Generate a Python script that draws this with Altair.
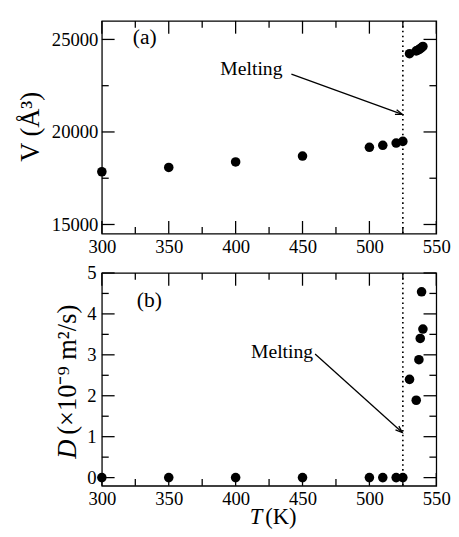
import altair as alt
import pandas as pd

# ---------------- data ----------------
T_solid = [300, 350, 400, 450, 500, 510, 520, 525]
V_solid = [17850, 18080, 18380, 18700, 19170, 19280, 19400, 19490]
D_solid = [0, 0, 0, 0, 0, 0, 0, 0]
T_liquid = [530, 535, 537, 538, 539, 540]
V_liquid = [24230, 24380, 24450, 24500, 24560, 24620]
D_liquid = [2.40, 1.89, 2.88, 3.40, 4.54, 3.63]
T_melt = 525

x_major = [300, 350, 400, 450, 500, 550]
x_minor = [325, 375, 425, 475, 525]
yV_major = [15000, 20000, 25000]
yV_minor = [17500, 22500]
yD_major = [0, 1, 2, 3, 4, 5]
yD_minor = [0.5, 1.5, 2.5, 3.5, 4.5]

# annotation anchors (data coordinates)
arrowV = {"T1": 441.7, "y1": 23120, "T2": 524.6, "y2": 20950}
arrowD = {"T1": 459.4, "y1": 3.02, "T2": 524.6, "y2": 1.10}
meltV = {"T": 411.8, "y": 23085}
meltD = {"T": 434.7, "y": 2.93}
labelV = {"T": 332, "y": 24728, "t": "(a)"}
labelD = {"T": 335.5, "y": 4.17, "t": "(b)"}

FONT = "Liberation Serif"
W, H = 341, 217
MAJ, MIN = 13, 7
SW = 1.3

xscale = alt.Scale(domain=[300, 550], nice=False, zero=False)
xaxis = alt.Axis(values=x_major, format="d", title=None, labelPadding=4,
                 labelFlush=False, labelOverlap=False)


def xenc(f):
    return alt.X(f, type="quantitative", scale=xscale, axis=xaxis)


def panel(yvals, ydomain, ymaj, ymin, ylabpad, arrow, melt, lab, angle):
    yscale = alt.Scale(domain=ydomain, nice=False, zero=False)
    yaxis = alt.Axis(values=ymaj, format="d", title=None, labelPadding=ylabpad,
                     labelFlush=False, labelOverlap=False)

    def yenc(f):
        return alt.Y(f, type="quantitative", scale=yscale, axis=yaxis)

    T_all = T_solid + T_liquid
    pts = alt.Chart(pd.DataFrame({"T": T_all, "y": yvals})).mark_circle(
        size=95, color="black", opacity=1
    ).encode(x=xenc("T"), y=yenc("y"))

    melt_line = alt.Chart(pd.DataFrame({"T": [T_melt]})).mark_rule(
        color="black", strokeWidth=1.7, strokeDash=[1.6, 3.4]
    ).encode(x=xenc("T"), y=alt.value(0), y2=alt.value(H))

    adf = pd.DataFrame([arrow])
    shaft = alt.Chart(adf).mark_rule(color="black", strokeWidth=SW).encode(
        x=xenc("T1"), x2="T2", y=yenc("y1"), y2="y2"
    )
    head = alt.Chart(adf).mark_point(
        shape="M-0.36,1L0,0L0.36,1", size=200, filled=False,
        stroke="black", strokeWidth=SW, angle=angle, opacity=1
    ).encode(x=xenc("T2"), y=yenc("y2"))

    mtext = alt.Chart(pd.DataFrame([melt])).mark_text(
        text="Melting", font=FONT, fontSize=20, color="black",
        align="center", baseline="alphabetic"
    ).encode(x=xenc("T"), y=yenc("y"))

    ltext = alt.Chart(pd.DataFrame([lab])).mark_text(
        font=FONT, fontSize=22, color="black", align="center", baseline="alphabetic"
    ).encode(x=xenc("T"), y=yenc("y"), text="t:N")

    layers = [melt_line, pts, shaft, head, mtext, ltext]

    for vals, L in ((x_major, MAJ), (x_minor, MIN)):
        d = pd.DataFrame({"v": vals})
        layers.append(alt.Chart(d).mark_rule(color="black", strokeWidth=SW).encode(
            x=xenc("v"), y=alt.value(H), y2=alt.value(H - L)))
        layers.append(alt.Chart(d).mark_rule(color="black", strokeWidth=SW).encode(
            x=xenc("v"), y=alt.value(0), y2=alt.value(L)))
    for vals, L in ((ymaj, MAJ), (ymin, MIN)):
        d = pd.DataFrame({"v": vals})
        layers.append(alt.Chart(d).mark_rule(color="black", strokeWidth=SW).encode(
            y=yenc("v"), x=alt.value(0), x2=alt.value(L)))
        layers.append(alt.Chart(d).mark_rule(color="black", strokeWidth=SW).encode(
            y=yenc("v"), x=alt.value(W), x2=alt.value(W - L)))
    return layers


one = pd.DataFrame({"a": [0]})

top_layers = panel(V_solid + V_liquid, [14500, 26000], yV_major, yV_minor, 4,
                   arrowV, meltV, labelV, 110)
top_layers.append(alt.Chart(one).mark_text(
    text="V (Å³)", font=FONT, fontSize=27, color="black", angle=270,
    align="center", baseline="alphabetic"
).encode(x=alt.value(-64.5), y=alt.value(108)))
top = alt.layer(*top_layers).properties(width=W, height=H)

bot_layers = panel(D_solid + D_liquid, [-0.2, 5], yD_major, yD_minor, 6,
                   arrowD, meltD, labelD, 132)
bot_layers.append(alt.Chart(one).mark_text(
    text="D", font=FONT, fontSize=27, fontStyle="italic", color="black", angle=270,
    align="left", baseline="alphabetic"
).encode(x=alt.value(-26.5), y=alt.value(189.5)))
bot_layers.append(alt.Chart(one).mark_text(
    text="(×10⁻⁹ m²/s)", font=FONT, fontSize=27, color="black", angle=270,
    align="left", baseline="alphabetic"
).encode(x=alt.value(-26.5), y=alt.value(165)))
bot_layers.append(alt.Chart(one).mark_text(
    text="T", font=FONT, fontSize=23, fontStyle="italic", color="black",
    align="right", baseline="alphabetic"
).encode(x=alt.value(163.5), y=alt.value(H + 39)))
bot_layers.append(alt.Chart(one).mark_text(
    text="(K)", font=FONT, fontSize=23, color="black",
    align="left", baseline="alphabetic"
).encode(x=alt.value(166.5), y=alt.value(H + 39)))
bot = alt.layer(*bot_layers).properties(width=W, height=H)

chart = alt.vconcat(top, bot, spacing=6).properties(
    padding={"left": 7.7, "top": 6, "right": 0, "bottom": 0},
    background="white",
).configure_view(
    stroke="black", strokeWidth=SW
).configure_axis(
    labelFont=FONT, labelFontSize=19, labelColor="black",
    ticks=False, domain=False, grid=False
)

chart.save("out.html", embed_options={"renderer": "svg", "actions": False})
